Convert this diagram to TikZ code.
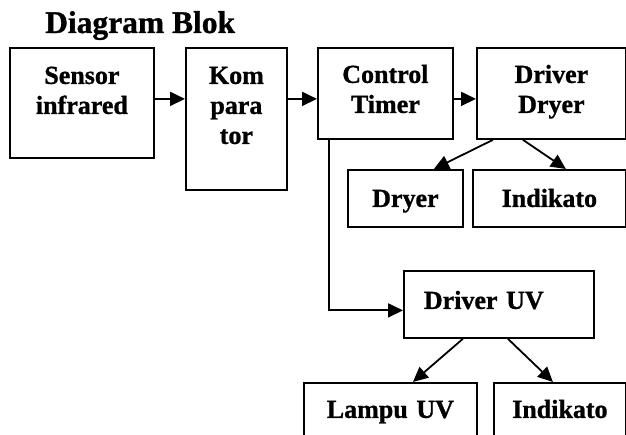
\documentclass[tikz,border=0pt]{standalone}
\usepackage{fontspec}
\setmainfont{Liberation Serif}[BoldFeatures={FakeBold=1}]
\usetikzlibrary{arrows.meta}

\tikzset{
  blok/.style={draw, line width=1.8pt, inner sep=0pt, align=center, anchor=north west,
    font=\fontsize{26}{30}\selectfont\bfseries},
  panah/.style={line width=1.8pt, -{Triangle[length=15pt,width=14pt]}}
}

\begin{document}
\begin{tikzpicture}[x=1pt, y=-1pt]
\useasboundingbox (0,0) rectangle (626,435);

\node[anchor=base west, inner sep=0pt, font=\fontsize{31.5}{34}\selectfont\bfseries] (judul) at (45,33) {Diagram Blok};

% baris atas
\node[blok, text width=144pt, text height=36pt, text depth=74pt]  (sensor) at (9,47)   {Sensor\\infrared};
\node[blok, text width=101pt, text height=36pt, text depth=106pt] (komp)   at (185,47) {Kom\\para\\tor};
\node[blok, text width=135pt, text height=35pt, text depth=56pt]  (timer)  at (317,47) {Control\\Timer};
\node[blok, text width=149pt, text height=35pt, text depth=56pt]  (drvdry) at (476,47) {Driver\\Dryer};

% keluaran dryer
\node[blok, text width=115pt, text height=37pt, text depth=20pt]  (dryer)  at (347,169) {Dryer};
\node[blok, text width=153pt, text height=37pt, text depth=20pt]  (indik1) at (472,169) {Indikato};

% cabang UV
\node[blok, text width=190pt, text height=38pt, text depth=29pt, align=left] (drvuv) at (403,270) {\hspace*{20pt}Driver UV};
\node[blok, text width=173pt, text height=35pt, text depth=40pt]  (lampu)  at (303,382) {Lampu UV};
\node[blok, text width=132pt, text height=35pt, text depth=40pt]  (indik2) at (493,382) {Indikato};

\draw[panah] ([yshift=4pt]sensor.east) -- ([yshift=4pt]sensor.east -| komp.west);
\draw[panah] ([yshift=20pt]komp.east) -- ([yshift=20pt]komp.east -| timer.west);
\draw[panah] ([yshift=-5.5pt]timer.east) -- ([yshift=-5.5pt]timer.east -| drvdry.west);

\draw[panah] ([xshift=17pt]drvdry.south west) -- ([xshift=28.5pt]dryer.north);
\draw[panah] ([xshift=-28.5pt]drvdry.south) -- ([xshift=16.5pt]indik1.north);

\draw[panah] ([xshift=12pt]timer.south west) |- ([yshift=-6pt]drvuv.west);

\draw[panah] ([xshift=-36pt]drvuv.south) -- ([xshift=22.5pt]lampu.north);
\draw[panah] ([xshift=9pt]drvuv.south) -- ([xshift=-7pt]indik2.north);
\end{tikzpicture}
\end{document}
